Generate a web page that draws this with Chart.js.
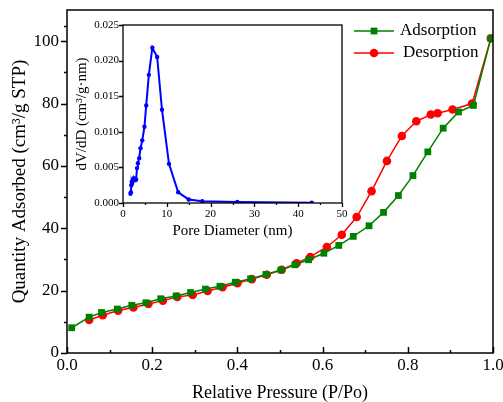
<!DOCTYPE html>
<html>
<head>
<meta charset="utf-8">
<script src="https://cdn.jsdelivr.net/npm/chart.js@4.4.0/dist/chart.umd.min.js"></script>
<style>
  html, body { margin: 0; padding: 0; background: #fff; }
  #wrap { position: relative; width: 503px; height: 402px; }
  #mainChart { position: absolute; left: 0; top: 0; }
  #insetChart { position: absolute; left: 60px; top: 0; }
</style>
</head>
<body>
<div id="wrap">
  <canvas id="mainChart" width="503" height="402"></canvas>
  <canvas id="insetChart" width="290" height="240"></canvas>
</div>
<script>
// N2 isotherm (main chart)
const adsX = [0.011, 0.052, 0.081, 0.118, 0.152, 0.185, 0.220, 0.256, 0.290, 0.325, 0.359, 0.395, 0.431, 0.467, 0.502, 0.535, 0.567, 0.603, 0.638, 0.672, 0.709, 0.743, 0.778, 0.812, 0.847, 0.883, 0.919, 0.954, 0.995];
const adsY = [8.1, 11.5, 13.0, 14.1, 15.3, 16.1, 17.4, 18.3, 19.4, 20.5, 21.4, 22.7, 23.8, 25.2, 26.6, 28.3, 29.9, 32.0, 34.5, 37.4, 40.8, 45.1, 50.5, 56.9, 64.5, 72.1, 77.3, 79.4, 100.9];
const desX = [0.052, 0.084, 0.120, 0.156, 0.191, 0.225, 0.259, 0.295, 0.330, 0.365, 0.400, 0.434, 0.469, 0.504, 0.539, 0.571, 0.610, 0.645, 0.680, 0.715, 0.751, 0.786, 0.820, 0.854, 0.870, 0.905, 0.951, 0.995];
const desY = [10.6, 12.1, 13.6, 14.6, 15.7, 16.8, 18.0, 18.6, 19.9, 21.1, 22.4, 23.7, 25.1, 26.7, 28.8, 30.8, 34.0, 37.9, 43.6, 51.9, 61.6, 69.6, 74.3, 76.5, 76.9, 78.1, 80.0, 100.9];
const pressureTicks = [0, 0.2, 0.4, 0.6, 0.8, 1.0];
const quantityTicks = [0, 20, 40, 60, 80, 100];

// pore size distribution (inset)
const poreD = [1.7, 1.8, 1.9, 2.0, 2.1, 2.3, 2.5, 2.8, 3.0, 3.2, 3.4, 3.7, 4.0, 4.4, 4.9, 5.3, 5.9, 6.7, 7.8, 8.9, 10.5, 12.6, 15.0, 18.1, 26.1, 43.1];
const dVdD = [0.0013, 0.0015, 0.0025, 0.0030, 0.0028, 0.0033, 0.0035, 0.0032, 0.0033, 0.0049, 0.0056, 0.0063, 0.0077, 0.0088, 0.0107, 0.0137, 0.0180, 0.0218, 0.0205, 0.0131, 0.0055, 0.0015, 0.0005, 0.00025, 0.00014, 0.00005];
const poreTicks = [0, 10, 20, 30, 40, 50];
const dvTicks = [0, 0.005, 0.010, 0.015, 0.020, 0.025];

const FONT = "'Liberation Serif', 'Times New Roman', serif";

function pairs(xs, ys) {
    return xs.map((x, i) => ({ x: x, y: ys[i] }));
}
function mids(ticks) {
    const out = [];
    for (let i = 0; i < ticks.length - 1; i++) out.push((ticks[i] + ticks[i + 1]) / 2);
    return out;
}

// box frame + major/minor ticks
const frameTicks = {
    id: 'frameTicks',
    afterDraw(chart, args, o) {
        const { ctx, chartArea: a, scales } = chart;
        ctx.save();
        ctx.strokeStyle = '#000';
        ctx.lineWidth = o.lineWidth;
        ctx.strokeRect(a.left, a.top, a.right - a.left, a.bottom - a.top);
        ctx.beginPath();
        const xs = scales.x, ys = scales.y;
        o.xMajor.forEach(v => {
            const p = Math.round(xs.getPixelForValue(v)) + 0.5;
            ctx.moveTo(p, a.bottom); ctx.lineTo(p, a.bottom + o.xDir * o.major);
        });
        o.xMinor.forEach(v => {
            const p = Math.round(xs.getPixelForValue(v)) + 0.5;
            ctx.moveTo(p, a.bottom); ctx.lineTo(p, a.bottom + o.xDir * o.minor);
        });
        o.yMajor.forEach(v => {
            const p = Math.round(ys.getPixelForValue(v)) + 0.5;
            ctx.moveTo(a.left, p); ctx.lineTo(a.left - o.major, p);
        });
        o.yMinor.forEach(v => {
            const p = Math.round(ys.getPixelForValue(v)) + 0.5;
            ctx.moveTo(a.left, p); ctx.lineTo(a.left - o.minor, p);
        });
        ctx.stroke();
        ctx.restore();
    }
};

// legend drawn inside the plot, upper right
const insideLegend = {
    id: 'insideLegend',
    afterDraw(chart) {
        const ctx = chart.ctx;
        const rows = [{ y: 31, tx: 400 }, { y: 53, tx: 403 }];
        ctx.save();
        chart.data.datasets.forEach((ds, i) => {
            const r = rows[i];
            ctx.strokeStyle = ds.borderColor;
            ctx.lineWidth = 1.5;
            ctx.beginPath();
            ctx.moveTo(354, r.y); ctx.lineTo(394, r.y);
            ctx.stroke();
            ctx.fillStyle = ds.backgroundColor;
            Chart.helpers.drawPoint(ctx, { pointStyle: ds.pointStyle, radius: ds.pointRadius, borderWidth: 0 }, 374, r.y);
            ctx.fillStyle = '#000';
            ctx.font = "17px " + FONT;
            ctx.textBaseline = 'middle';
            ctx.fillText(ds.label, r.tx, r.y);
        });
        ctx.restore();
    }
};

new Chart(document.getElementById('mainChart'), {
    type: 'scatter',
    data: {
        datasets: [
            {
                label: 'Adsorption', data: pairs(adsX, adsY), showLine: true,
                borderColor: '#008000', backgroundColor: '#008000', borderWidth: 1.5,
                pointStyle: 'rect', pointRadius: 4.8, pointBorderWidth: 0
            },
            {
                label: 'Desorption', data: pairs(desX, desY), showLine: true,
                borderColor: '#ff0000', backgroundColor: '#ff0000', borderWidth: 1.5,
                pointStyle: 'circle', pointRadius: 4.3, pointBorderWidth: 0
            }
        ]
    },
    options: {
        responsive: false,
        animation: false,
        layout: { padding: { top: 10, right: 10, left: 0, bottom: 0 } },
        plugins: { legend: { display: false }, tooltip: { enabled: false },
            frameTicks: { lineWidth: 1.5, major: 6, minor: 3, xDir: -1,
                xMajor: pressureTicks, xMinor: mids(pressureTicks),
                yMajor: quantityTicks, yMinor: mids(quantityTicks).concat([105]) } },
        scales: {
            x: {
                type: 'linear', min: 0, max: 1,
                grid: { display: false, drawTicks: false }, border: { display: false },
                afterBuildTicks: s => { s.ticks = pressureTicks.map(v => ({ value: v })); },
                ticks: { color: '#000', font: { family: FONT, size: 17 }, padding: 2, maxRotation: 0,
                    callback: v => Number(v).toFixed(1) },
                title: { display: true, text: 'Relative Pressure (P/Po)', color: '#000',
                    font: { family: FONT, size: 18, lineHeight: 1 }, padding: { top: 0, bottom: 0 } },
                afterFit: s => { s.height = 49; s.paddingLeft = 0; s.paddingRight = 0; }
            },
            y: {
                type: 'linear', min: 0, max: 110,
                grid: { display: false, drawTicks: false }, border: { display: false },
                afterBuildTicks: s => { s.ticks = quantityTicks.map(v => ({ value: v })); },
                ticks: { color: '#000', font: { family: FONT, size: 17 }, padding: 8 },
                title: { display: true, text: 'Quantity Adsorbed (cm³/g STP)', color: '#000',
                    font: { family: FONT, size: 19, lineHeight: 1 }, padding: { top: 11, bottom: 0 } },
                afterFit: s => { s.width = 67; s.paddingTop = 0; s.paddingBottom = 0; }
            }
        }
    },
    plugins: [frameTicks, insideLegend]
});

new Chart(document.getElementById('insetChart'), {
    type: 'scatter',
    data: {
        datasets: [{
            label: 'PSD', data: pairs(poreD, dVdD), showLine: true,
            borderColor: '#0000ff', backgroundColor: '#0000ff', borderWidth: 2,
            pointStyle: 'circle', pointRadius: 2.2, pointBorderWidth: 0
        }]
    },
    options: {
        responsive: false,
        animation: false,
        layout: { padding: { top: 25, right: 8, left: 0, bottom: 0 } },
        plugins: { legend: { display: false }, tooltip: { enabled: false },
            frameTicks: { lineWidth: 1.3, major: 4, minor: 2, xDir: 1,
                xMajor: poreTicks, xMinor: mids(poreTicks),
                yMajor: dvTicks, yMinor: [] } },
        scales: {
            x: {
                type: 'linear', min: 0, max: 50,
                grid: { display: false, drawTicks: false }, border: { display: false },
                afterBuildTicks: s => { s.ticks = poreTicks.map(v => ({ value: v })); },
                ticks: { color: '#000', font: { family: FONT, size: 11 }, padding: 5, maxRotation: 0 },
                title: { display: true, text: 'Pore Diameter (nm)', color: '#000',
                    font: { family: FONT, size: 15 }, padding: { top: 0, bottom: 0 } },
                afterFit: s => { s.height = 37; s.paddingLeft = 0; s.paddingRight = 0; }
            },
            y: {
                type: 'linear', min: 0, max: 0.025,
                grid: { display: false, drawTicks: false }, border: { display: false },
                afterBuildTicks: s => { s.ticks = dvTicks.map(v => ({ value: v })); },
                ticks: { color: '#000', font: { family: FONT, size: 11 }, padding: 4,
                    callback: v => Number(v).toFixed(3) },
                title: { display: true, text: 'dV/dD (cm³/g·nm)', color: '#000',
                    font: { family: FONT, size: 15, lineHeight: 1 }, padding: { top: 15, bottom: 0 } },
                afterFit: s => { s.width = 63; s.paddingTop = 0; s.paddingBottom = 0; }
            }
        }
    },
    plugins: [frameTicks]
});
</script>
</body>
</html>
